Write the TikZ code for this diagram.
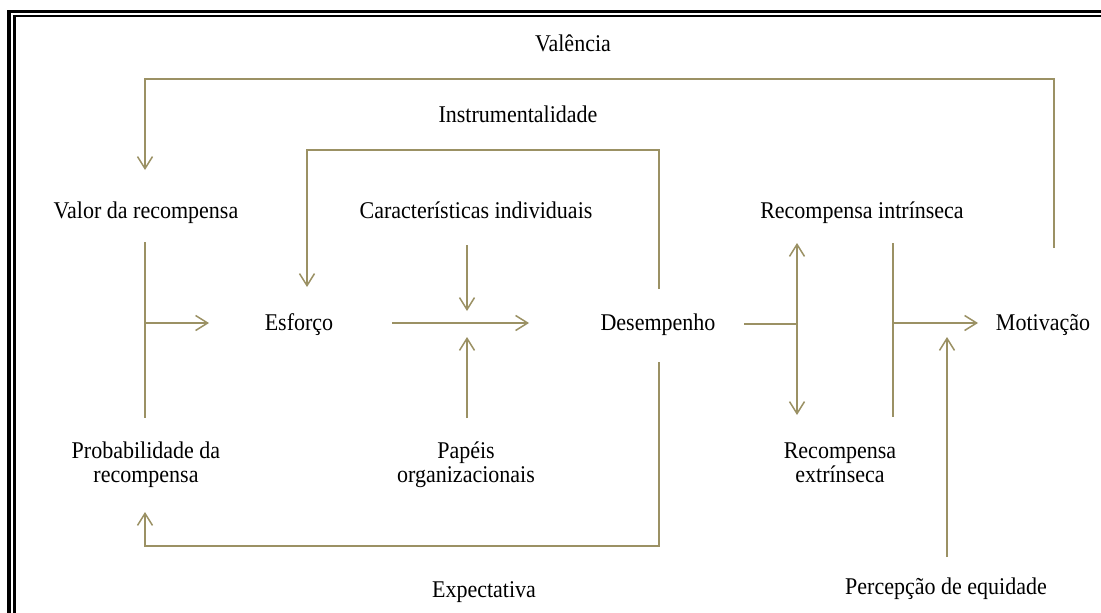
\documentclass[tikz,border=0pt]{standalone}
\usepackage{fontspec}
\setmainfont{Liberation Serif}[FakeStretch=0.917]
\usetikzlibrary{arrows.meta}
\definecolor{olive}{RGB}{155,145,100}
\tikzset{
  lbl/.style={font=\fontsize{24}{24}\selectfont, inner sep=0pt, anchor=base, align=center, text=black},
  conn/.style={draw=olive, line width=1.5pt},
  arr/.style={conn, -{Straight Barb[length=12pt,width=15pt,line width=1.5pt]}},
  darr/.style={conn, {Straight Barb[length=12pt,width=15pt,line width=1.5pt]}-{Straight Barb[length=12pt,width=15pt,line width=1.5pt]}}
}
\begin{document}
\begin{tikzpicture}[x=1pt,y=-1pt]
\useasboundingbox (0,0) rectangle (1101,613);
\fill[white] (0,0) rectangle (1101,613);
% frame
\draw[line width=3.2pt] (9,11.3) rectangle (1120,640);
\draw[line width=2.2pt] (14.5,16.3) rectangle (1115,635);

% labels
\node[lbl] (val) at (573,51) {Valência};
\node[lbl] (ins) at (518,122) {Instrumentalidade};
\node[lbl] (valor) at (146,218) {Valor da recompensa};
\node[lbl] (carac) at (476,218) {Características individuais};
\node[lbl] (rint) at (862,218) {Recompensa intrínseca};
\node[lbl] (esf) at (299,330) {Esforço};
\node[lbl] (des) at (658,330) {Desempenho};
\node[lbl] (mot) at (1043,330) {Motivação};
\node[lbl] (prob) at (146,482) {Probabilidade da\\recompensa};
\node[lbl] (pap) at (466,482) {Papéis\\organizacionais};
\node[lbl] (rext) at (840,482) {Recompensa\\extrínseca};
\node[lbl] (exp) at (484,597) {Expectativa};
\node[lbl] (peq) at (946,594) {Percepção de equidade};

% coordinates
\coordinate (vA) at (1054,248);
\coordinate (vB) at (1054,79);
\coordinate (vC) at (145,79);
\coordinate (vD) at (145,170);

\coordinate (iA) at (659,289);
\coordinate (iB) at (659,150);
\coordinate (iC) at (307,150);
\coordinate (iD) at (307,287);

\coordinate (eA) at (659,362);
\coordinate (eB) at (659,546);
\coordinate (eC) at (145,546);
\coordinate (eD) at (145,512);

\coordinate (lT) at (145,242);
\coordinate (lB) at (145,418);
\coordinate (lM) at (145,323);
\coordinate (lE) at (209,323);

\coordinate (cL) at (392,323);
\coordinate (cR) at (529,323);
\coordinate (cT) at (467,245);
\coordinate (cTt) at (467,311);
\coordinate (cB) at (467,418);
\coordinate (cBt) at (467,337);

\coordinate (rL) at (744,324);
\coordinate (rM) at (797,324);
\coordinate (rT) at (797,243);
\coordinate (rB) at (797,415);

\coordinate (sT) at (893,243);
\coordinate (sB) at (893,417);
\coordinate (sM) at (893,323);
\coordinate (sE) at (978,323);

\coordinate (pB) at (947,557);
\coordinate (pT) at (947,337);

% connectors
\draw[arr] (vA) -- (vB) -- (vC) -- (vD);
\draw[arr] (iA) -- (iB) -- (iC) -- (iD);
\draw[arr] (eA) -- (eB) -- (eC) -- (eD);
\draw[conn] (lT) -- (lB);
\draw[arr] (lM) -- (lE);
\draw[arr] (cL) -- (cR);
\draw[arr] (cT) -- (cTt);
\draw[arr] (cB) -- (cBt);
\draw[conn] (rL) -- (rM);
\draw[darr] (rT) -- (rB);
\draw[conn] (sT) -- (sB);
\draw[arr] (sM) -- (sE);
\draw[arr] (pB) -- (pT);
\end{tikzpicture}
\end{document}
